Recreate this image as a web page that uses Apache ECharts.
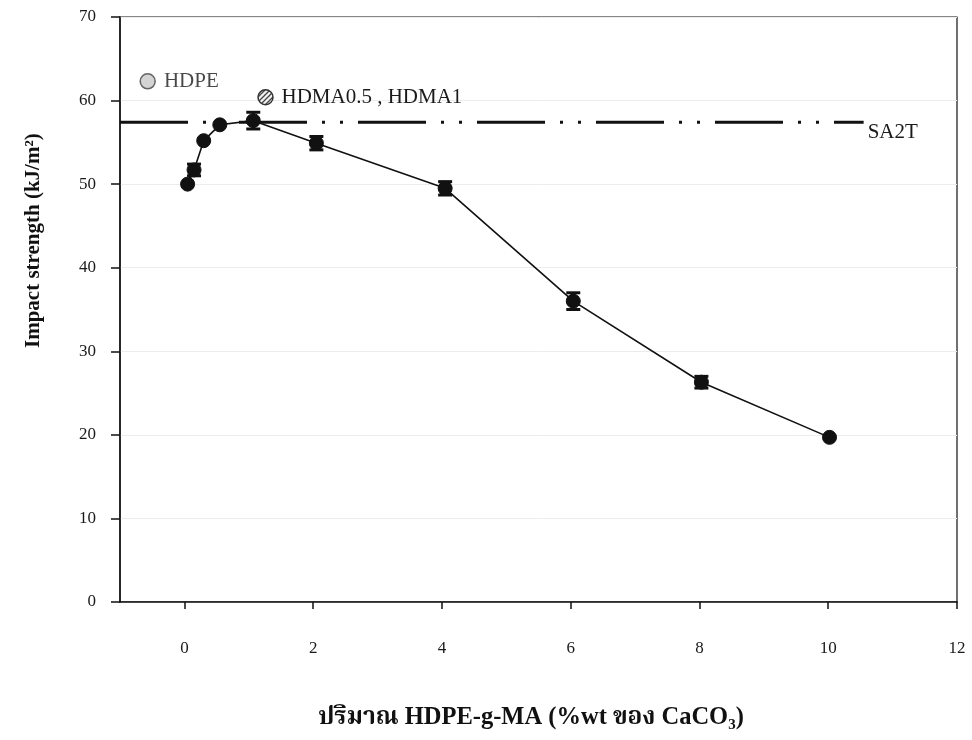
<!DOCTYPE html>
<html>
<head>
<meta charset="utf-8">
<script src="https://cdn.jsdelivr.net/npm/echarts@6/dist/echarts.min.js"></script>
<style>html,body{margin:0;padding:0;background:#fff}#c{width:972px;height:740px}</style>
</head>
<body>
<div id="c"></div>
<script>
// ---- data ----
const xValues = [0.05, 0.15, 0.3, 0.55, 1.07, 2.05, 4.05, 6.04, 8.03, 10.02];
const impact = [50.0, 51.7, 55.2, 57.1, 57.6, 54.9, 49.5, 36.0, 26.3, 19.7];
const errors = [0, 0.7, 0, 0, 1.0, 0.8, 0.8, 1.0, 0.7, 0];
const hdpePoint = [-0.57, 62.3];
const hdmaPoint = [1.26, 60.4];
const sa2tValue = 57.4;
const sa2tRange = [-1, 10.55];
const xTicks = [0, 2, 4, 6, 8, 10, 12];
const yTicks = [0, 10, 20, 30, 40, 50, 60, 70];

const serif = "'Liberation Serif','Times New Roman','Noto Serif Thai','Noto Sans Thai','Loma','Garuda','DejaVu Serif',serif";

const mainData = xValues.map((x, i) => [x, impact[i]]);
const errData = xValues.map((x, i) => [x, impact[i] - errors[i], impact[i] + errors[i]]).filter((d, i) => errors[i] > 0);

// hatch pattern for HDMA marker
const pat = document.createElement('canvas');
pat.width = 5; pat.height = 5;
(function () {
  const g = pat.getContext('2d');
  g.fillStyle = '#f2f2f2'; g.fillRect(0, 0, 5, 5);
  g.strokeStyle = '#444'; g.lineWidth = 1.3;
  g.beginPath();
  g.moveTo(-1, 6); g.lineTo(6, -1);
  g.moveTo(-1, 1); g.lineTo(1, -1);
  g.moveTo(4, 6); g.lineTo(6, 4);
  g.stroke();
})();

const chart = echarts.init(document.getElementById('c'), null, {renderer: 'canvas'});
chart.setOption({
  animation: false,
  backgroundColor: '#fff',
  grid: {left: 120, right: 15, top: 17, bottom: 138, show: true, borderColor: '#111', borderWidth: 1.2, backgroundColor: 'transparent'},
  xAxis: {
    type: 'value', min: -1, max: 12,
    axisLine: {show: true, onZero: false, lineStyle: {color: '#111', width: 1.5}},
    axisTick: {show: true, customValues: xTicks, length: 7, lineStyle: {color: '#111', width: 1.5}},
    axisLabel: {customValues: xTicks, margin: 38, color: '#1a1a1a', fontFamily: serif, fontSize: 17},
    splitLine: {show: false}
  },
  yAxis: {
    type: 'value', min: 0, max: 70, interval: 10,
    axisLine: {show: true, onZero: false, lineStyle: {color: '#111', width: 1.5}},
    axisTick: {show: true, length: 9, lineStyle: {color: '#111', width: 1.5}},
    axisLabel: {margin: 24, color: '#1a1a1a', fontFamily: serif, fontSize: 17},
    splitLine: {show: true, lineStyle: {color: '#ececec', width: 1}}
  },
  graphic: [
    {
      type: 'text',
      rotation: Math.PI / 2,
      x: 23, y: 348,
      style: {text: 'Impact strength (kJ/m²)', font: "bold 21px " + serif, fill: '#111', verticalAlign: 'top'}
    },
    {
      type: 'text', x: 531, y: 718,
      style: {
        text: 'ปริมาณ HDPE-g-MA (%wt ของ CaCO{sub|3})',
        font: "bold 24.5px " + serif, fill: '#111', align: 'center', verticalAlign: 'middle',
        rich: {sub: {fontSize: 15, fontWeight: 'bold', fontFamily: serif, padding: [15, 0, 0, 0], fill: '#111'}}
      }
    }
  ],
  series: [
    {
      type: 'line', data: mainData, symbol: 'circle', symbolSize: 14,
      lineStyle: {color: '#111', width: 1.6},
      itemStyle: {color: '#111', borderColor: '#111'},
      z: 3
    },
    {
      type: 'custom', data: errData, z: 4,
      renderItem: function (params, api) {
        const x = api.value(0);
        const lo = api.coord([x, api.value(1)]);
        const hi = api.coord([x, api.value(2)]);
        const w = 7;
        const st = {stroke: '#111', lineWidth: 3};
        return {type: 'group', children: [
          {type: 'line', shape: {x1: lo[0], y1: lo[1], x2: hi[0], y2: hi[1]}, style: st},
          {type: 'line', shape: {x1: lo[0] - w, y1: lo[1], x2: lo[0] + w, y2: lo[1]}, style: st},
          {type: 'line', shape: {x1: hi[0] - w, y1: hi[1], x2: hi[0] + w, y2: hi[1]}, style: st}
        ]};
      }
    },
    {
      type: 'line', data: [[sa2tRange[0], sa2tValue], [sa2tRange[1], sa2tValue]],
      symbol: 'none', silent: true,
      lineStyle: {color: '#111', width: 3, type: [68, 15, 3, 15, 3, 15]},
      endLabel: {show: true, formatter: 'SA2T', distance: 0, offset: [4, 10], fontFamily: serif, fontSize: 21, color: '#1a1a1a'},
      z: 2
    },
    {
      type: 'scatter', data: [hdpePoint], symbol: 'circle', symbolSize: 15,
      itemStyle: {color: '#c9c9c9', borderColor: '#444', borderWidth: 1.5},
      label: {show: true, position: 'right', distance: 8, formatter: 'HDPE', fontFamily: serif, fontSize: 21, color: '#1a1a1a'}
    },
    {
      type: 'custom', data: [hdmaPoint], z: 5,
      renderItem: function (params, api) {
        const p = api.coord([api.value(0), api.value(1)]);
        return {type: 'group', children: [
          {type: 'circle', shape: {cx: p[0], cy: p[1], r: 7.5},
            style: {fill: {image: pat, repeat: 'repeat'}, stroke: '#333', lineWidth: 1.5}},
          {type: 'text', x: p[0] + 16, y: p[1],
            style: {text: 'HDMA0.5 , HDMA1', font: '21px ' + serif, fill: '#1a1a1a', verticalAlign: 'middle'}}
        ]};
      }
    }
  ]
});
</script>
</body>
</html>
